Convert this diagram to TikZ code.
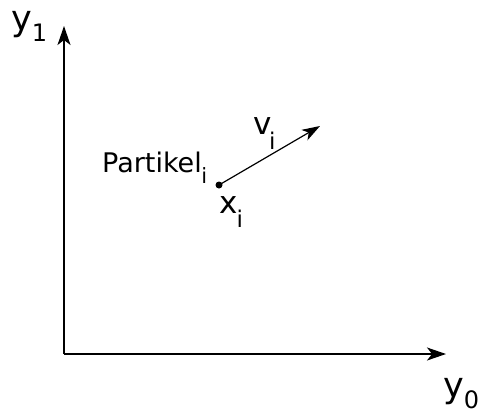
\documentclass[tikz,border=0pt]{standalone}
\usepackage{fontspec}
\setmainfont{DejaVu Sans}
\usetikzlibrary{arrows.meta}
\newcommand{\lab}[6]{{\fontsize{#1}{#1}\selectfont #2}\kern#5\raisebox{-#6}{\fontsize{#3}{#3}\selectfont #4}}
\tikzset{
  axis/.style={line width=1.4pt, -{Stealth[length=19pt,width=13pt,inset=5pt]}},
  vec/.style={line width=1.2pt, -{Stealth[length=18pt,width=12pt,inset=5pt]}},
  lbl/.style={inner sep=0pt, anchor=base west}
}
\begin{document}
\begin{tikzpicture}[x=1pt,y=-1pt]
\useasboundingbox (0,0) rectangle (479,410);
\coordinate (O) at (64,354);
\coordinate (Y1) at (64,26);
\coordinate (Y0) at (446,354);
\draw[axis] (O) -- (Y1);
\draw[axis] (O) -- (Y0);
\node[lbl] (ly1) at (11,30) {\lab{35}{y}{24}{1}{0pt}{11pt}};
\node[lbl] (ly0) at (443,397) {\lab{35}{y}{24}{0}{0pt}{11pt}};
\node[circle, fill, inner sep=0pt, minimum size=7pt] (p) at (219,185) {};
\coordinate (vt) at (320,126);
\draw[vec] (p.center) -- (vt);
\node[lbl] (lv) at (253,134) {\lab{31}{v}{23}{i}{-2.5pt}{15pt}};
\node[lbl] (lx) at (219,213) {\lab{31}{x}{23}{i}{-1pt}{14pt}};
\node[lbl] (lp) at (102,172) {\lab{27}{Partikel}{21}{i}{-0.5pt}{11pt}};
\end{tikzpicture}
\end{document}
